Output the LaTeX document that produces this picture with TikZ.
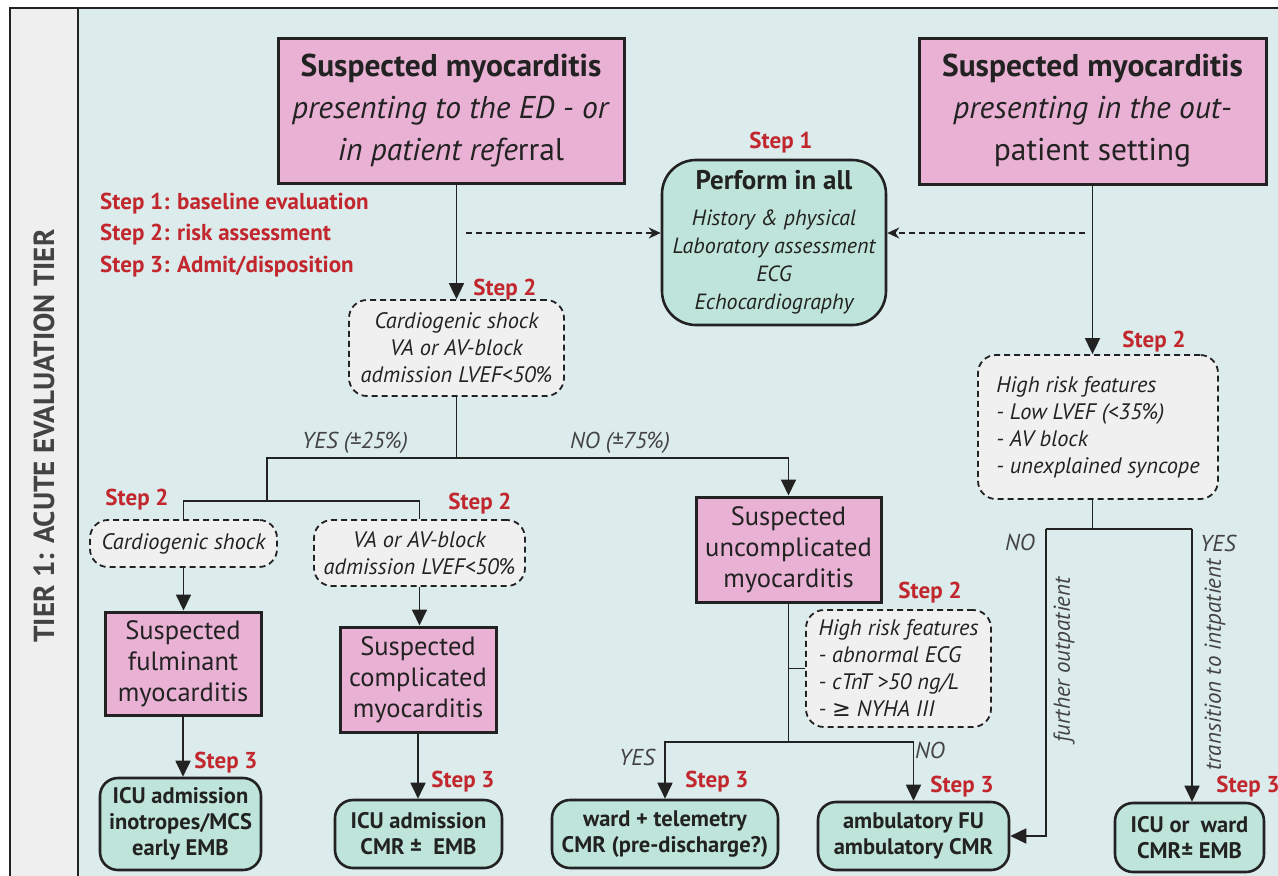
\documentclass[tikz,border=0pt]{standalone}
\usepackage{fontspec}
\setmainfont{PT Sans}
\newfontfamily\symfont{DejaVu Sans}
\usetikzlibrary{arrows.meta,positioning}
\definecolor{mainbg}{HTML}{DCEBEC}
\definecolor{sidebg}{HTML}{EFEFEF}
\definecolor{pinkfill}{HTML}{E9B1D4}
\definecolor{tealfill}{HTML}{BFE4D9}
\definecolor{greyfill}{HTML}{F0F0F0}
\definecolor{stepred}{HTML}{C1272D}
\definecolor{ink}{HTML}{222222}

\begin{document}
\begin{tikzpicture}[x=1pt,y=-1pt,
  every node/.style={text=ink},
  pinkbox/.style={draw=ink,line width=3pt,fill=pinkfill,inner sep=0pt,align=center,font=\fontsize{26.5}{31}\selectfont},
  tealbox/.style={draw=ink,line width=2.6pt,fill=tealfill,rounded corners=18pt,inner sep=0pt,align=center,font=\fontsize{22.5}{26}\selectfont\bfseries},
  dashbox/.style={draw=ink,line width=1.8pt,dash pattern=on 6pt off 4pt,fill=greyfill,rounded corners=18pt,inner sep=0pt,align=center,font=\fontsize{22.4}{27}\selectfont\itshape},
  steplbl/.style={text=stepred,font=\fontsize{23}{24}\selectfont\bfseries,inner sep=0pt},
  lbl/.style={text=ink!85,font=\fontsize{23}{24}\selectfont\itshape,inner sep=0pt},
  link/.style={draw=ink,line width=1.8pt},
  arrow/.style={link,-{Triangle[width=15pt,length=16pt]}},
  dasharrow/.style={link,line width=1.5pt,dash pattern=on 6pt off 4pt,-{Stealth[width=11pt,length=12pt]}}]

  \useasboundingbox (0,0) rectangle (1278,876);
  \fill[mainbg] (78,8) rectangle (1278,876);
  \fill[sidebg] (10,8) rectangle (78,876);
  \draw[ink,line width=2.5pt] (10,876) -- (10,8) -- (1278,8);
  \draw[ink,line width=2.5pt] (78,8) -- (78,876);
  \node[rotate=90,text=ink!85,font=\fontsize{29}{30}\selectfont\bfseries] (tier) at (44,436) {TIER 1: ACUTE EVALUATION TIER};

  % entry points
  \node[pinkbox,minimum width=346pt,minimum height=145pt,font=\fontsize{31.5}{42}\selectfont] (edA) at (451,110.5)
    {\textbf{Suspected myocarditis}\\ \textit{presenting to the ED - or}\\ \textit{in patient refe}rral};
  \node[pinkbox,minimum width=347pt,minimum height=146pt,font=\fontsize{31.5}{42}\selectfont] (outB) at (1092.5,111)
    {\textbf{Suspected myocarditis}\\ \textit{presenting in the out-}\\ patient setting};
  \node[steplbl,anchor=west,align=left,font=\fontsize{23}{31.5}\selectfont\bfseries] (legend) at (100,235)
    {Step 1: baseline evaluation\\ Step 2: risk assessment\\ Step 3: Admit/disposition};

  % step 1
  \node[tealbox,rounded corners=34pt,minimum width=224pt,minimum height=165pt,font=\fontsize{22}{28}\selectfont\itshape] (perform) at (774,242.5)
    {{\upshape\bfseries\fontsize{27}{28}\selectfont Perform in all}\\[8pt] History \& physical\\ Laboratory assessment\\ ECG\\ Echocardiography};
  \node[steplbl] (st1) at (781,143) {Step 1};

  % step 2
  \node[dashbox,minimum width=215pt,minimum height=96pt] (c1) at (456.5,348)
    {Cardiogenic shock\\ VA or AV-block\\ admission LVEF<50\%};
  \node[steplbl] (st2a) at (505,290) {Step 2};
  \node[dashbox,minimum width=187pt,minimum height=47pt] (c2) at (183.5,543.5) {Cardiogenic shock};
  \node[steplbl] (st2b) at (137,500) {Step 2};
  \node[dashbox,minimum width=211pt,minimum height=66pt] (c3) at (419.5,553) {VA or AV-block\\ admission LVEF<50\%};
  \node[steplbl] (st2c) at (480,504) {Step 2};
  \node[dashbox,minimum width=240pt,minimum height=144pt,align=left] (hrf1) at (1098,427)
    {High risk features\\ - Low LVEF (<35\%)\\ - AV block\\ - unexplained syncope};
  \node[steplbl] (st2d) at (1154,342) {Step 2};
  \node[dashbox,minimum width=185pt,minimum height=117pt,align=left] (hrf2) at (898.5,668.5)
    {High risk features\\ - abnormal ECG\\ - cTnT >50 ng/L\\ - {\symfont\upshape ≥} NYHA III};
  \node[steplbl] (st2e) at (930,593) {Step 2};

  \node[pinkbox,minimum width=156pt,minimum height=103pt] (fulm) at (183,663.5) {Suspected\\ fulminant\\ myocarditis};
  \node[pinkbox,minimum width=156pt,minimum height=105pt] (compl) at (418,679.5) {Suspected\\ complicated\\ myocarditis};
  \node[pinkbox,minimum width=185pt,minimum height=105pt] (uncomp) at (788.5,549.5) {Suspected\\ uncomplicated\\ myocarditis};

  % step 3
  \node[tealbox,minimum width=161pt,minimum height=92pt] (icuA) at (180.5,824) {ICU admission\\ inotropes/MCS\\ early EMB};
  \node[steplbl] (st3a) at (226,763) {Step 3};
  \node[tealbox,minimum width=167pt,minimum height=68pt] (icuB) at (418.5,834) {ICU admission\\ CMR ±~ EMB};
  \node[steplbl] (st3b) at (463,782) {Step 3};
  \node[tealbox,minimum width=226pt,minimum height=68pt] (ward) at (665,834) {ward + telemetry\\ CMR (pre-discharge?)};
  \node[steplbl] (st3c) at (717,782) {Step 3};
  \node[tealbox,minimum width=191pt,minimum height=68pt] (amb) at (913.5,836) {ambulatory FU\\ ambulatory CMR};
  \node[steplbl] (st3d) at (962,787) {Step 3};
  \node[tealbox,minimum width=149pt,minimum height=69pt] (icuC) at (1189.5,837.5) {ICU or~ ward\\ CMR± EMB};
  \node[steplbl] (st3e) at (1248,787) {Step 3};

  % branch labels
  \node[lbl] (yes1) at (355,443) {YES (±25\%)};
  \node[lbl] (no1) at (620,443) {NO (±75\%)};
  \node[lbl] (yes2) at (637,757) {YES};
  \node[lbl] (no2) at (930,750) {NO};
  \node[lbl] (no3) at (1020,542) {NO};
  \node[lbl] (yes3) at (1218,543) {YES};
  \node[lbl,rotate=90] (further) at (1064,660) {further outpatient};
  \node[lbl,rotate=90] (trans) at (1215,665) {transition to intpatient};

  % connectors
  \coordinate (dl) at (466,233);
  \coordinate (dr) at (1085,233);
  \coordinate (j1) at (456.5,458);
  \coordinate (j2) at (267,501);
  \coordinate (j3) at (788.5,742);
  \coordinate (j4) at (1092.5,529);
  \coordinate (nob) at (1046,529);
  \coordinate (yesb) at (1192,529);

  \draw[arrow] (edA.south -| c1.north) -- (c1.north);
  \draw[arrow] (outB.south) -- (outB.south |- hrf1.north);
  \draw[dasharrow] (dl) -- (dl -| perform.west);
  \draw[dasharrow] (dr) -- (dr -| perform.east);

  \draw[link] (c1.south) -- (j1);
  \draw[link] (j1) -| (j2);
  \draw[link] (c2.north) |- (j2) -| (c3.north);
  \draw[arrow] (j1) -| (uncomp.north);
  \draw[arrow] (c2.south) -- (c2.south |- fulm.north);
  \draw[arrow] (fulm.south) -- (fulm.south |- icuA.north);
  \draw[arrow] (c3.south) -- (c3.south |- compl.north);
  \draw[arrow] (compl.south) -- (compl.south |- icuB.north);

  \draw[link] (uncomp.south) -- (j3);
  \draw[link] (uncomp.south |- hrf2.west) -- (hrf2.west);
  \draw[arrow] (j3) -| (ward.north);
  \draw[arrow] (j3) -| (amb.north);

  \draw[link] (j4 |- hrf1.south) -- (j4);
  \draw[link] (nob) -- (yesb);
  \draw[arrow] (nob) |- (amb.east);
  \draw[arrow] (yesb) -- (yesb |- icuC.north);
\end{tikzpicture}
\end{document}
